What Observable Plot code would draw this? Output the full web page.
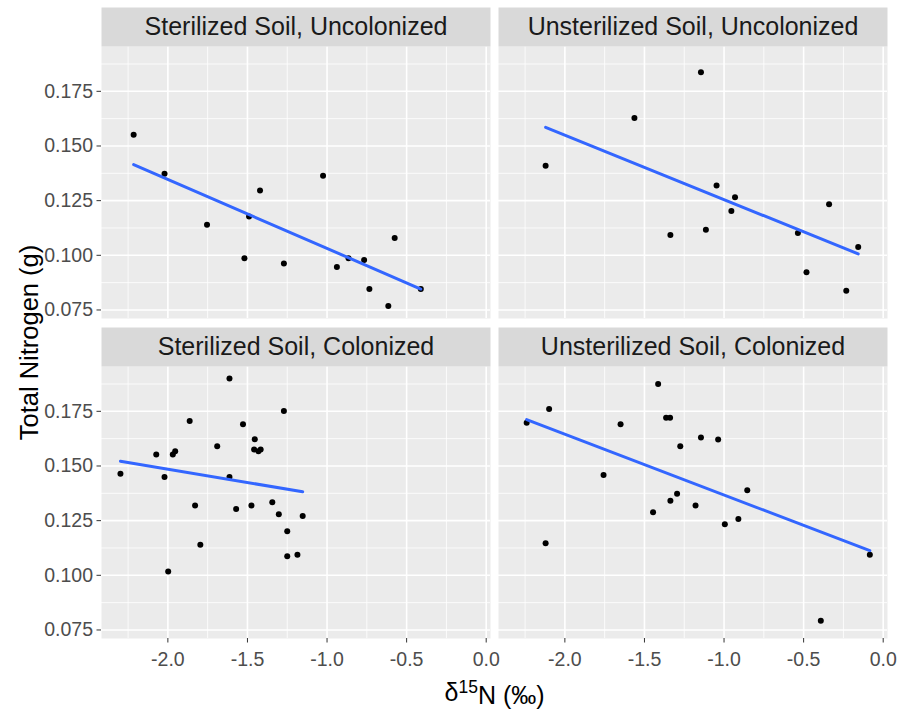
<!DOCTYPE html>
<html>
<head>
<meta charset="utf-8">
<script src="https://cdn.jsdelivr.net/npm/d3@7"></script>
<script src="https://cdn.jsdelivr.net/npm/@observablehq/plot@0.6"></script>
<style>
  html, body { margin: 0; padding: 0; background: #ffffff; }
  #chart svg { display: block; }
</style>
</head>
<body>
<div id="chart"></div>
<script>
// Facet categories
const soils = ["Sterilized Soil", "Unsterilized Soil"];
const colonization = ["Uncolonized", "Colonized"];

// Sterilized Soil, Uncolonized
const sterUncolD15N = [-2.215, -2.021, -1.754, -1.519, -1.490, -1.421, -1.271, -1.025, -0.938, -0.865, -0.767, -0.734, -0.615, -0.575, -0.411];
const sterUncolN    = [0.1551, 0.1373, 0.1140, 0.0986, 0.1177, 0.1296, 0.0962, 0.1364, 0.0947, 0.0986, 0.0979, 0.0846, 0.0768, 0.1079, 0.0846];

// Unsterilized Soil, Uncolonized
const unsterUncolD15N = [-2.121, -1.563, -1.337, -1.145, -1.114, -1.047, -0.954, -0.931, -0.536, -0.482, -0.340, -0.232, -0.157];
const unsterUncolN    = [0.1410, 0.1628, 0.1093, 0.1837, 0.1117, 0.1319, 0.1203, 0.1265, 0.1102, 0.0922, 0.1233, 0.0838, 0.1038];

// Sterilized Soil, Colonized
const sterColD15N = [-2.298, -2.073, -2.021, -1.998, -1.969, -1.954, -1.863, -1.829, -1.796, -1.690, -1.613, -1.613, -1.571, -1.528, -1.475, -1.454, -1.458, -1.431, -1.417, -1.344, -1.303, -1.271, -1.250, -1.250, -1.186, -1.153];
const sterColN    = [0.1465, 0.1552, 0.1450, 0.1017, 0.1552, 0.1567, 0.1706, 0.1319, 0.1140, 0.1590, 0.1900, 0.1450, 0.1303, 0.1691, 0.1319, 0.1622, 0.1575, 0.1567, 0.1575, 0.1334, 0.1279, 0.1751, 0.1202, 0.1087, 0.1094, 0.1271];

// Unsterilized Soil, Colonized
const unsterColD15N = [-2.240, -2.121, -2.099, -1.757, -1.650, -1.446, -1.414, -1.364, -1.339, -1.337, -1.295, -1.275, -1.179, -1.145, -1.037, -0.995, -0.910, -0.854, -0.392, -0.084];
const unsterColN    = [0.1698, 0.1147, 0.1761, 0.1459, 0.1691, 0.1288, 0.1875, 0.1721, 0.1721, 0.1341, 0.1373, 0.1590, 0.1319, 0.1630, 0.1621, 0.1233, 0.1257, 0.1389, 0.0792, 0.1094];

// Ticks
const xTicks = [-2, -1.5, -1, -0.5, 0];
const xMinorTicks = [-2.25, -1.75, -1.25, -0.75, -0.25];
const yTicks = [0.075, 0.100, 0.125, 0.150, 0.175];
const yMinorTicks = [0.0875, 0.1125, 0.1375, 0.1625, 0.1875];

const xTitle = "δ15N (‰)";
const yTitle = "Total Nitrogen (g)";

// Build table
const data = [];
function addPanel(soil, col, xs, ys) {
  xs.forEach((x, i) => data.push({soil, col, d15N: x, N: ys[i]}));
}
addPanel(soils[0], colonization[0], sterUncolD15N, sterUncolN);
addPanel(soils[1], colonization[0], unsterUncolD15N, unsterUncolN);
addPanel(soils[0], colonization[1], sterColD15N, sterColN);
addPanel(soils[1], colonization[1], unsterColD15N, unsterColN);

const strips = [];
for (const col of colonization) for (const soil of soils) strips.push({soil, col, label: `${soil}, ${col}`});

const panelH = 272;
const stripH = 39;

const chart = Plot.plot({
  width: 900,
  height: 709,
  marginLeft: 100,
  marginRight: 12,
  marginTop: 46,
  marginBottom: 71,
  style: {fontFamily: "'Liberation Sans', Arial, sans-serif", background: "#ffffff"},
  fx: {domain: soils, paddingInner: 0.0201, paddingOuter: 0, axis: null, label: null},
  fy: {domain: colonization, paddingInner: 0.15, paddingOuter: 0, axis: null, label: null},
  x: {domain: [-2.417, 0.027]},
  y: {domain: [0.0711, 0.1955]},
  marks: [
    Plot.frame({fill: "#EBEBEB", stroke: "none"}),
    Plot.gridX({ticks: xMinorTicks, stroke: "#ffffff", strokeOpacity: 1, strokeWidth: 0.8}),
    Plot.gridY({ticks: yMinorTicks, stroke: "#ffffff", strokeOpacity: 1, strokeWidth: 0.8}),
    Plot.gridX({ticks: xTicks, stroke: "#ffffff", strokeOpacity: 1, strokeWidth: 1.6}),
    Plot.gridY({ticks: yTicks, stroke: "#ffffff", strokeOpacity: 1, strokeWidth: 1.6}),
    Plot.frame({fill: "#D9D9D9", stroke: "none", insetTop: -stripH, insetBottom: panelH}),
    Plot.text(strips, {fx: "soil", fy: "col", text: "label", frameAnchor: "top", dy: -stripH / 2, lineAnchor: "middle", fontSize: 25, fill: "#1A1A1A"}),
    Plot.dot(data, {fx: "soil", fy: "col", x: "d15N", y: "N", r: 3, fill: "#000000", stroke: "none"}),
    Plot.linearRegressionY(data, {fx: "soil", fy: "col", x: "d15N", y: "N", stroke: "#3366FF", strokeWidth: 3, ci: 0}),
    Plot.axisX({ticks: xTicks, tickFormat: d => d.toFixed(1), tickSize: 4.5, tickPadding: 9, fontSize: 19.5, fill: "#4D4D4D", stroke: "#333333", label: null}),
    Plot.axisY({ticks: yTicks, tickFormat: d => d.toFixed(3), tickSize: 4.5, tickPadding: 4, fontSize: 19.5, fill: "#4D4D4D", stroke: "#333333", label: null}),
    Plot.text([xTitle], {facet: "super", frameAnchor: "bottom", dy: 54, lineAnchor: "middle", textAnchor: "middle", fontSize: 25, fill: "#000000"}),
    Plot.text([yTitle], {facet: "super", frameAnchor: "left", dx: -72, rotate: -90, lineAnchor: "middle", textAnchor: "middle", fontSize: 25.5, fill: "#000000"})
  ]
});
document.getElementById("chart").appendChild(chart);

// Render the "15" of the x title as a superscript
d3.select(chart).selectAll("text").filter(function() { return this.textContent === xTitle; }).each(function() {
  const t = d3.select(this);
  t.text(null);
  t.append("tspan").text("δ");
  t.append("tspan").attr("dy", "-0.45em").attr("font-size", "0.7em").text("15");
  t.append("tspan").attr("dy", "0.45em").text("N (‰)");
});
</script>
</body>
</html>
